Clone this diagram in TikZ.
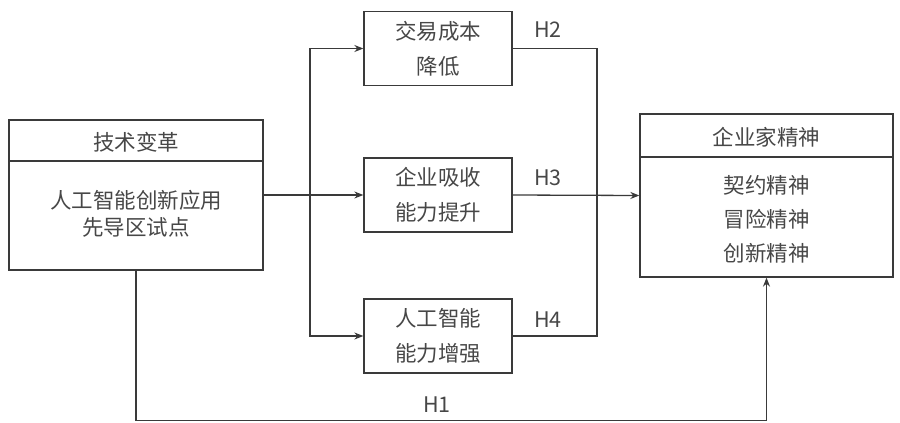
\documentclass[tikz,border=0pt]{standalone}
\usepackage{fontspec}
\setmainfont{Noto Sans CJK SC}
\usetikzlibrary{calc}
\usetikzlibrary{arrows.meta,positioning}
\usepackage{xcolor}
\definecolor{linec}{HTML}{3A3A3A}
\definecolor{textc}{HTML}{474747}
\newcommand{\bigtxt}{\fontsize{21.5}{27}\selectfont}
\tikzset{
  box/.style={draw=linec,line width=1.3pt,minimum width=148pt,minimum height=74pt,
    align=center,text=textc,font=\fontsize{21.5}{35}\selectfont},
  bigbox/.style={draw=linec,line width=1.3pt,inner sep=0pt},
  lbl/.style={text=textc,font=\bigtxt},
  conn/.style={draw=linec,line width=1.3pt},
  arr/.style={conn,-{Stealth[length=9pt,width=7pt]}}
}
\begin{document}
\begin{tikzpicture}[x=1pt,y=-1pt]
        \useasboundingbox (0,0) rectangle (900,423);
        \node[bigbox,minimum width=254pt,minimum height=150pt] (tech) at (136,195) {};
        \node[lbl] (techT) at (136,142) {技术变革};
        \node[lbl,align=center] (techB) at (136,214) {人工智能创新应用\\先导区试点};
        \draw[conn] (tech.west |- 0,161) -- (tech.east |- 0,161);
        \node[box] (cost) at (438,48.5) {交易成本\\降低};
        \node[box] (absorb) at (438,195) {企业吸收\\能力提升};
        \node[box] (aiup) at (438,336) {人工智能\\能力增强};
        \node[bigbox,minimum width=253pt,minimum height=163pt] (ent) at (766.5,195.5) {};
        \node[lbl] (entT) at (766.5,137) {企业家精神};
        \node[lbl,align=center,font=\fontsize{21.5}{34}\selectfont] (entB) at (766.5,219) {契约精神\\冒险精神\\创新精神};
        \draw[conn] (ent.west |- 0,157) -- (ent.east |- 0,157);
        \coordinate (busL) at (310,195);
        \coordinate (busR) at (597,195);
        \draw[arr] (tech.east) -- (absorb.west);
        \draw[arr] (busL) |- (cost.west);
        \draw[arr] (busL) |- (aiup.west);
        \draw[conn] (cost.east) -| (busR);
        \draw[conn] (aiup.east) -| (busR);
        \draw[arr] (absorb.east) -- (ent.west);
        \draw[arr] (tech.south) -- ++(0,150) -| (ent.south);
        \node[lbl] (h2) at (548,30) {H2};
        \node[lbl] (h3) at (548,178) {H3};
        \node[lbl] (h4) at (548,320) {H4};
        \node[lbl] (h1) at (437,405) {H1};
      \end{tikzpicture}
\end{document}
